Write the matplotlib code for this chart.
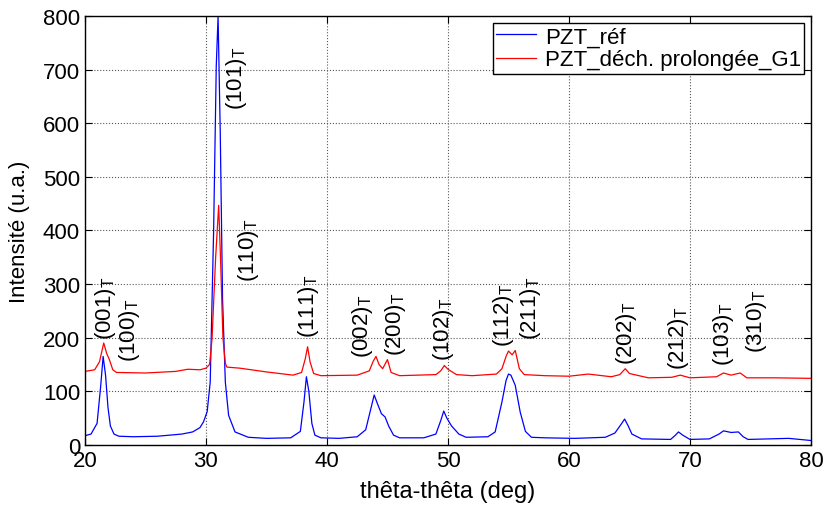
import matplotlib
matplotlib.use("Agg")
import matplotlib.pyplot as plt

plt.rcParams['font.family'] = ['Liberation Sans', 'DejaVu Sans']

# PZT_réf (courbe bleue)
ref_x = [20.0, 20.5, 21.0, 21.3, 21.5, 21.7, 21.9, 22.1, 22.4, 22.8, 24.0, 26.0, 28.0,
         28.9, 29.5, 29.8, 30.1, 30.35, 30.63, 30.85, 31.0, 31.18, 31.37, 31.6, 31.87,
         32.4, 33.5, 35.0, 37.0, 37.8, 38.1, 38.3, 38.5, 38.75, 39.0, 39.5, 41.0, 42.5,
         43.2, 43.6, 43.9, 44.2, 44.5, 44.8, 45.1, 45.5, 46.0, 48.0, 49.0, 49.4, 49.65,
         49.9, 50.3, 50.9, 51.5, 53.3, 53.9, 54.46, 54.8, 55.0, 55.2, 55.56, 55.97, 56.4,
         56.9, 58.0, 60.5, 63.0, 63.8, 64.3, 64.6, 64.9, 65.2, 66.0, 68.4, 68.8, 69.05,
         69.4, 70.0, 71.6, 72.4, 72.77, 73.4, 74.0, 74.4, 74.8, 76.5, 78.15, 80.0]
ref_y = [17, 20, 40, 110, 165, 130, 70, 35, 20, 16, 15, 16, 20,
         24, 32, 43, 62, 117, 397, 707, 800, 583, 272, 117, 55,
         24, 14, 12, 13, 25, 80, 127, 100, 40, 18, 13, 12, 15,
         28, 65, 93, 75, 58, 52, 35, 18, 13, 13, 20, 45, 63,
         50, 35, 20, 14, 15, 24, 80, 120, 132, 130, 111, 61, 25,
         14, 13, 12, 14, 22, 38, 48, 35, 20, 11, 10, 18, 24,
         18, 10, 11, 20, 26, 23, 24, 15, 10, 11, 12, 8]

# PZT_déch. prolongée_G1 (courbe rouge)
g1_x = [20.0, 20.8, 21.2, 21.55, 21.8, 22.0, 22.3, 22.6, 25.0, 27.5, 28.5, 29.5, 30.0,
        30.3, 30.5, 30.8, 31.05, 31.2, 31.4, 31.6, 31.73, 32.8, 35.0, 37.2, 37.9, 38.2,
        38.4, 38.6, 38.9, 39.5, 42.5, 43.5, 43.8, 44.05, 44.3, 44.6, 45.0, 45.3, 46.0,
        49.0, 49.4, 49.7, 50.0, 50.7, 52.0, 54.0, 54.46, 54.8, 55.0, 55.3, 55.56, 55.9,
        56.3, 58.0, 60.0, 61.6, 63.5, 64.2, 64.65, 65.0, 66.56, 68.5, 69.2, 70.0, 72.2,
        72.77, 73.4, 74.15, 74.7, 77.0, 80.0]
g1_y = [137, 140, 155, 190, 170, 160, 140, 135, 134, 137, 141, 140, 143,
        150, 198, 350, 447, 350, 200, 152, 145, 143, 136, 130, 135, 160,
        183, 155, 133, 129, 130, 138, 155, 165, 150, 142, 159, 135, 129,
        131, 138, 148, 141, 131, 129, 132, 142, 165, 175, 168, 176, 142,
        131, 129, 128, 132, 127, 131, 142, 133, 125, 126, 130, 125, 127,
        134, 130, 134, 125, 125, 124]

# Indexation des pics (étiquette, position en 2theta, hauteur du bas du texte)
peak_labels = ['(001)', '(100)', '(101)', '(110)', '(111)', '(002)', '(200)', '(102)',
               '(112)', '(211)', '(202)', '(212)', '(103)', '(310)']
peak_pos = [21.7, 23.7, 32.55, 33.5, 38.45, 42.9, 45.65, 49.64, 54.6, 56.8, 64.77,
            69.05, 72.78, 75.5]
peak_h = [198, 157, 627, 306, 201, 164, 167, 159, 185, 198, 151, 142, 148, 173]

fig = plt.figure(figsize=(8.25, 5.06), dpi=100)
ax = fig.add_axes([0.103, 0.119, 0.880, 0.847])

ax.plot(ref_x, ref_y, color='blue', lw=0.9, label='PZT_réf')
ax.plot(g1_x, g1_y, color='red', lw=0.9, label='PZT_déch. prolongée_G1')

for lab, x, h in zip(peak_labels, peak_pos, peak_h):
    ax.text(x, h, lab + r'$_\mathregular{T}$', rotation=90, ha='center', va='bottom',
            fontsize=16)

ax.set_xlim(20, 80)
ax.set_ylim(0, 800)
ax.set_xticks(range(20, 81, 10))
ax.set_yticks(range(0, 801, 100))
ax.tick_params(direction='in', top=True, right=True, labelsize=16, length=5)
ax.grid(True, color='0.35', linestyle=':', linewidth=0.8)
for s in ax.spines.values():
    s.set_linewidth(1.0)

ax.set_xlabel('thêta-thêta (deg)', fontsize=17, labelpad=7)
ax.set_ylabel('Intensité (u.a.)', fontsize=16, labelpad=9)

leg = ax.legend(loc='upper right', fontsize=16, fancybox=False, framealpha=1,
                edgecolor='black', borderaxespad=0.3, handlelength=1.8,
                handletextpad=0.4, borderpad=0.15, labelspacing=0.1)
leg.get_frame().set_linewidth(1.0)

fig.savefig('out.png', dpi=100)
